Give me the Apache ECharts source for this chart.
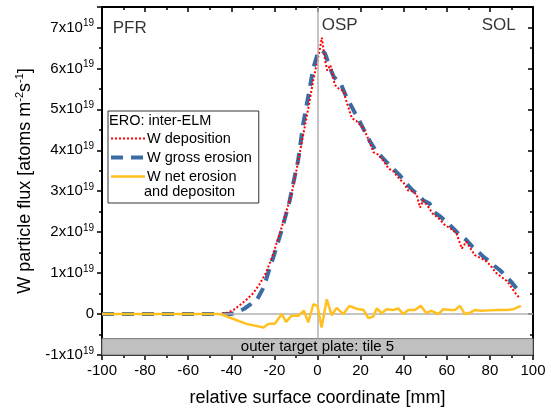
<!DOCTYPE html>
<html><head><meta charset="utf-8">
<script src="https://cdn.jsdelivr.net/npm/echarts@6/dist/echarts.min.js"></script>
<style>html,body{margin:0;padding:0;background:#fff}#c{width:551px;height:409px}</style>
</head><body><div id="c"></div>
<script>
// values in units of 1e19 atoms m^-2 s^-1, x in mm
const depX = [-100,-80,-60,-45,-42,-39,-36,-33,-30,-27,-24,-21,-19,-17,-14.5,-12,-10,-8,-6,-4,-2,0,1,2,3.5,4.5,6,8,10,12,14,16,18,21,23,26,28,30.5,33,35,38,40,42,44,46,47.6,49,51,53.5,56,59,62,64.5,67,69,71,73,76,78,80,83,86,88,90,92,94];
const depY = [0,0,0,0,0.03,0.1,0.22,0.35,0.5,0.72,1.0,1.4,1.73,2.05,2.5,2.95,3.45,4.0,4.55,5.1,5.7,6.2,6.45,6.75,6.2,5.95,6.08,5.6,5.5,5.45,5.1,4.78,4.72,4.55,4.35,3.95,3.9,3.75,3.55,3.5,3.3,3.2,3.02,3.0,2.92,2.6,2.78,2.65,2.45,2.35,2.18,2.08,1.97,1.6,1.77,1.6,1.44,1.36,1.3,1.2,1.0,0.88,0.8,0.65,0.5,0.38];
const grossX = [-100,-80,-60,-40,-37,-34,-31,-28,-25,-22,-19.5,-16.6,-13,-9,-6.6,-4,-2,0,1.5,3.5,5.5,7.5,11,13,15,17.5,20,22,24.4,27,30.5,34,38,41,44,47,49,52,54,57,60,63,66,69,72,75,77,80,82,84.7,87,90,92,94];
const grossY = [0,0,0,0,0.06,0.13,0.24,0.36,0.65,1.15,1.55,2.05,2.75,3.75,4.66,5.4,6.0,6.35,6.45,6.37,6.05,5.8,5.6,5.35,5.15,4.9,4.66,4.45,4.21,4.0,3.8,3.6,3.4,3.2,3.03,2.9,2.78,2.7,2.5,2.38,2.25,2.09,1.93,1.81,1.64,1.5,1.4,1.28,1.18,1.07,0.95,0.78,0.65,0.54];
const netX = [-100,-80,-60,-45,-39,-33,-25,-22.8,-19.7,-16.6,-14.6,-12,-8.9,-6.3,-4.3,-1.9,0,1.9,4.3,6.6,8.9,12,14.8,18.2,21.3,23.6,25.9,27.5,29.8,32.1,35.2,37.5,39.8,42.1,45.2,47.9,50.4,53,56.1,58.4,61.5,63.8,66.1,68.4,70.7,73.1,76,80,84,88,91,94.4];
const netY = [0,0,0,0,-0.12,-0.24,-0.33,-0.24,-0.23,0,-0.19,-0.04,-0.04,0.08,-0.2,0.24,0.2,-0.33,0.36,-0.03,0.15,0,0.2,0.13,0.1,-0.1,-0.06,0.14,0.02,0.12,0.1,0.14,0,0.1,0.1,0.2,0.03,0.08,0,0.12,0.1,0.1,0.2,0,0.03,0.1,0.08,0.09,0.1,0.1,0.12,0.2];
const seriesNames = ['W deposition','W gross erosion','W net erosion'];
const regionLabels = ['PFR','OSP','SOL'];
const regionX = [-95, 2, 92];
const regionY = [6.97, 7.05, 7.05];
const plateLabel = 'outer target plate: tile 5';
const plateRange = [-1, -0.6];
const xRange = [-100, 100];
const yRange = [-1, 7.5];

const FONT = 'Liberation Sans, Arial, sans-serif';
const zip = (a, b) => a.map((v, i) => [v, b[i]]);

const chart = echarts.init(document.getElementById('c'));
const axisCommon = {
  axisLine: { show: true, onZero: false, lineStyle: { color: '#000', width: 2 } },
  splitLine: { show: false }
};
chart.setOption({
  animation: false,
  backgroundColor: '#fff',
  grid: { left: 102, right: 18, top: 7, bottom: 54, containLabel: false, outerBoundsMode: 'none' },
  xAxis: [
    Object.assign({}, axisCommon, {
      type: 'value', min: xRange[0], max: xRange[1], interval: 20, position: 'bottom',
      axisTick: { show: true, inside: false, length: 5, lineStyle: { color: '#000', width: 1.5 } },
      minorTick: { show: true, splitNumber: 2, length: 3, lineStyle: { color: '#000', width: 1.5 } },
      axisLabel: { fontSize: 15, color: '#000', fontFamily: FONT, margin: 8 },
      name: 'relative surface coordinate [mm]', nameLocation: 'middle', nameGap: 34,
      nameTextStyle: { fontSize: 18, color: '#000', fontFamily: FONT }
    }),
    Object.assign({}, axisCommon, {
      type: 'value', min: xRange[0], max: xRange[1], interval: 20, position: 'top',
      axisTick: { show: true, inside: true, length: 5, lineStyle: { color: '#000', width: 1.5 } },
      minorTick: { show: true, splitNumber: 2, length: 3, lineStyle: { color: '#000', width: 1.5 } },
      axisLabel: { show: false }
    })
  ],
  yAxis: [
    Object.assign({}, axisCommon, {
      type: 'value', min: yRange[0], max: yRange[1], interval: 1, position: 'left',
      axisTick: { show: true, inside: false, length: 5, lineStyle: { color: '#000', width: 1.5 } },
      minorTick: { show: true, splitNumber: 2, length: 3, lineStyle: { color: '#000', width: 1.5 } },
      axisLabel: {
        color: '#000', fontFamily: FONT, margin: 8, showMaxLabel: false,
        formatter: v => Math.round(v) === 0 ? '{b|0}' : '{b|' + Math.round(v) + 'x10}{s|19}',
        rich: {
          b: { fontSize: 15, fontFamily: FONT, color: '#000', lineHeight: 18 },
          s: { fontSize: 10, fontFamily: FONT, color: '#000', verticalAlign: 'top', lineHeight: 18 }
        }
      },
      name: '{b|W particle flux [atoms m}{s|-2}{b|s}{s|-1}{b|]}', nameLocation: 'middle', nameGap: 65,
      nameTextStyle: {
        rich: {
          b: { fontSize: 18, fontFamily: FONT, color: '#000', lineHeight: 22 },
          s: { fontSize: 11, fontFamily: FONT, color: '#000', verticalAlign: 'top', lineHeight: 22 }
        }
      }
    }),
    Object.assign({}, axisCommon, {
      type: 'value', min: yRange[0], max: yRange[1], interval: 1, position: 'right',
      axisTick: { show: true, inside: true, length: 5, lineStyle: { color: '#000', width: 1.5 } },
      minorTick: { show: true, splitNumber: 2, length: 3, lineStyle: { color: '#000', width: 1.5 } },
      axisLabel: { show: false }
    })
  ],
  legend: {
    data: seriesNames, orient: 'vertical', left: 108, top: 111,
    padding: [20, 7, 19, 1], itemGap: 4, itemWidth: 34, itemHeight: 14,
    borderColor: '#333', borderWidth: 1, backgroundColor: '#fff',
    itemStyle: { opacity: 0 },
    lineStyle: { width: 'inherit' },
    textStyle: { fontSize: 14.5, fontFamily: FONT, color: '#000', padding: [0, 0, 0, -3] }
  },
  graphic: [
    { type: 'text', left: 109, top: 113, z: 100, style: { text: 'ERO: inter-ELM', fontSize: 14.5, fontFamily: FONT, fill: '#000' } },
    { type: 'text', left: 144, top: 184, z: 100, style: { text: 'and depositon', fontSize: 14.5, fontFamily: FONT, fill: '#000' } }
  ],
  series: [
    {
      name: 'ref', type: 'line', data: [], z: 1, silent: true,
      markArea: {
        silent: true,
        itemStyle: { color: '#c0c0c0', borderColor: '#7a7a7a', borderWidth: 1 },
        label: { show: true, position: 'inside', fontSize: 15, fontFamily: FONT, color: '#000' },
        data: [[{ xAxis: xRange[0], yAxis: plateRange[0], name: plateLabel }, { xAxis: xRange[1], yAxis: plateRange[1] }]]
      },
      markLine: {
        silent: true, symbol: 'none', label: { show: false },
        lineStyle: { color: '#b0b0b0', width: 1.5, type: 'solid' },
        data: [
          [{ coord: [xRange[0], 0] }, { coord: [xRange[1], 0] }],
          [{ coord: [0, plateRange[1]] }, { coord: [0, yRange[1]] }]
        ]
      }
    },
    {
      name: seriesNames[1], type: 'line', data: zip(grossX, grossY), symbol: 'none', z: 3,
      lineStyle: { color: '#3a6ca3', width: 4, type: [12, 8] }, itemStyle: { color: '#3a6ca3' }
    },
    {
      name: seriesNames[0], type: 'line', data: zip(depX, depY), symbol: 'none', z: 4,
      lineStyle: { color: '#ff0000', width: 2, type: [2, 2] }, itemStyle: { color: '#ff0000' }
    },
    {
      name: seriesNames[2], type: 'line', data: zip(netX, netY), symbol: 'none', z: 5,
      lineStyle: { color: '#ffc020', width: 2.5 }, itemStyle: { color: '#ffc020' }
    },
    {
      name: 'regions', type: 'scatter', symbolSize: 0, z: 6, silent: true,
      data: regionLabels.map((t, i) => ({
        value: [regionX[i], regionY[i]],
        label: { show: true, formatter: t, position: i === 2 ? 'left' : 'right', distance: 0, fontSize: 17, fontFamily: FONT, color: '#000' }
      }))
    }
  ]
});
</script>
</body></html>
